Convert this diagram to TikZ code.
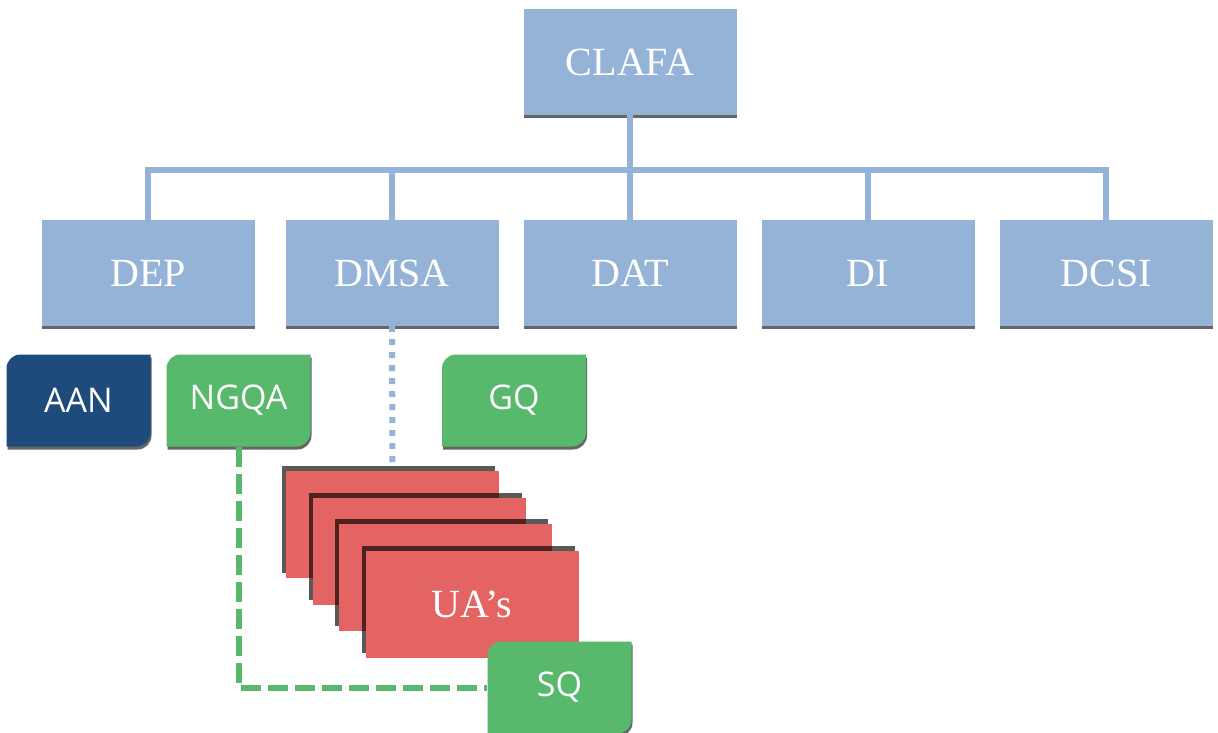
\documentclass[tikz,border=0pt]{standalone}
\usepackage{fontspec}
\setmainfont{Liberation Serif}
\newfontfamily\tagfont{Open Sans}
\usetikzlibrary{shadows}
\definecolor{dirblue}{HTML}{95B3D7}
\definecolor{uared}{HTML}{E46464}
\definecolor{taggreen}{HTML}{58B86C}
\definecolor{tagnavy}{HTML}{1F4A7C}

\begin{document}
\begin{tikzpicture}[x=1pt, y=1pt,
		dirbox/.style={fill=dirblue, text=white, inner sep=0pt, minimum width=213pt, minimum height=106pt,
			font=\fontsize{40}{48}\selectfont,
			drop shadow={shadow xshift=0pt, shadow yshift=-3pt, fill=black, opacity=0.6}},
		uabox/.style={fill=uared, text=white, inner sep=0pt, minimum width=213pt, minimum height=107pt,
			font=\fontsize{40}{48}\selectfont,
			drop shadow={shadow xshift=-4pt, shadow yshift=5pt, fill=black, opacity=0.65}},
		tagnode/.style={text=white, inner sep=0pt, minimum width=144pt, minimum height=92pt,
			font=\tagfont\fontsize{34}{40}\selectfont},
		link/.style={dirblue, line width=6pt}]
	\useasboundingbox (0,0) rectangle (1218,-733);
	
	\node[dirbox] (clafa) at (630,-62) {CLAFA};
	\node[dirbox] (dep) at (148,-273) {DEP};
	\node[dirbox] (dmsa) at (392,-273) {DMSA};
	\node[dirbox] (dat) at (630,-273) {DAT};
	\node[dirbox] (di) at (868,-273) {DI};
	\node[dirbox] (dcsi) at (1106,-273) {DCSI};
	
	\draw[link] (clafa.south) -- (dat.north);
	\draw[link] (dep.north) -- ++(0,50) -| (dcsi.north);
	\foreach \n in {dmsa,di}
		\draw[link] (\n.north) -- ++(0,50);
	
	\foreach \i in {1,...,3}
		\node[uabox] (ua\i) at (392.5+26.5*\i-26.5,-524.5-26.5*\i+26.5) {};
	\node[uabox] (ua4) at (472,-604) {UA’s};
	
	\draw[link, dash pattern=on 6pt off 7pt] (dmsa.south) -- ([yshift=5pt]ua1.north);
	
	\foreach \n/\x/\y/\c/\t in {aan/78.5/-400.5/tagnavy/AAN, ngqa/238.5/-400.5/taggreen/NGQA,
			gq/514/-400.5/taggreen/GQ, sq/559.5/-687.5/taggreen/SQ}{
		\fill[black, opacity=0.6, shift={(1,-3)}] (\x-72,\y-46) -- (\x-72,\y+32)
			arc[start angle=180, end angle=90, radius=14pt] -- (\x+72,\y+46) -- (\x+72,\y-32)
			arc[start angle=0, end angle=-90, radius=14pt] -- cycle;
		\fill[\c] (\x-72,\y-46) -- (\x-72,\y+32)
			arc[start angle=180, end angle=90, radius=14pt] -- (\x+72,\y+46) -- (\x+72,\y-32)
			arc[start angle=0, end angle=-90, radius=14pt] -- cycle;
		\node[tagnode] (\n) at (\x,\y) {\t};
	}
	
	\draw[taggreen, line width=6pt, dash pattern=on 20pt off 7pt] (ngqa.south) |- (sq.west);
\end{tikzpicture}
\end{document}
